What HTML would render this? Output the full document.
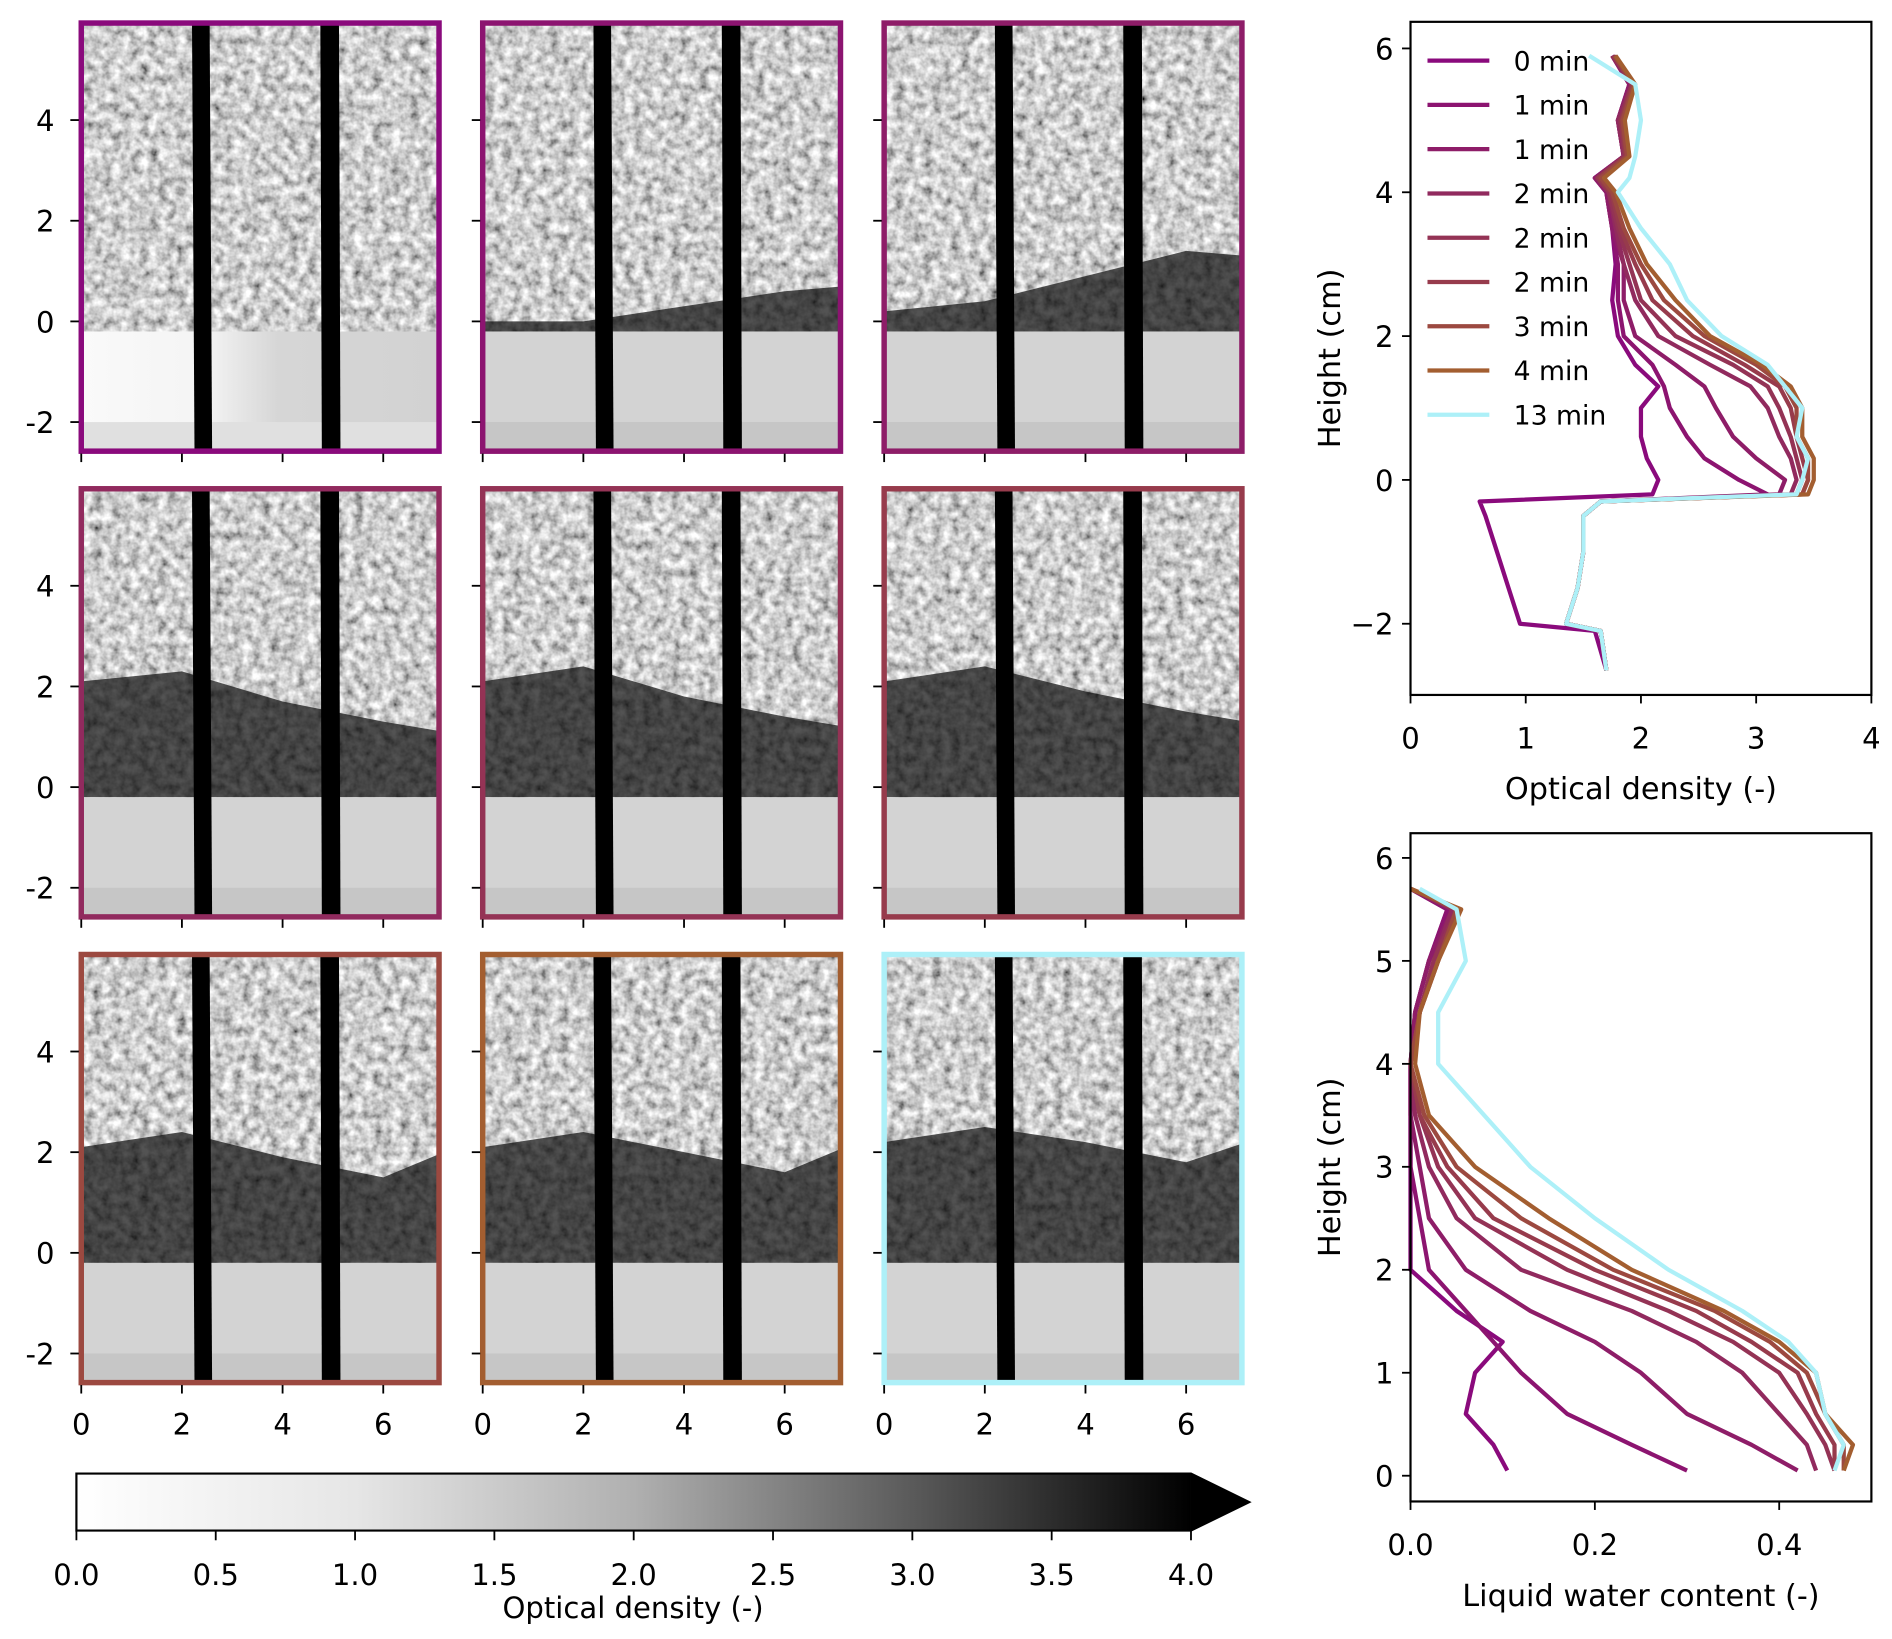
<!DOCTYPE html>
<html><head><meta charset="utf-8"><style>
html,body{margin:0;padding:0;background:#fff;overflow:hidden;width:1892px;height:1639px;}
svg{display:block;font-family:"DejaVu Sans","Liberation Sans",sans-serif;}
</style></head><body>
<svg id="fig" width="1892" height="1639" viewBox="0 0 1560 1351.4" preserveAspectRatio="none" xmlns="http://www.w3.org/2000/svg">
<defs>
<filter id="tex" x="0" y="0" width="1" height="1">
<feTurbulence type="fractalNoise" baseFrequency="0.13" numOctaves="3" seed="3"/>
<feColorMatrix type="matrix" values="1.3 0 0 0 -0.04  1.3 0 0 0 -0.04  1.3 0 0 0 -0.04  0 0 0 0 1"/>
</filter>
<linearGradient id="cbg" x1="0" x2="1" y1="0" y2="0">
<stop offset="0" stop-color="#ffffff"/><stop offset="0.25" stop-color="#e6e6e6"/><stop offset="0.5" stop-color="#b0b0b0"/><stop offset="0.75" stop-color="#5a5a5a"/><stop offset="1" stop-color="#000"/>
</linearGradient>
<linearGradient id="p1low" x1="0" x2="1" y1="0" y2="0">
<stop offset="0" stop-color="#fafafa"/><stop offset="0.35" stop-color="#f4f4f4"/><stop offset="0.55" stop-color="#d6d6d6"/><stop offset="1" stop-color="#d2d2d2"/>
</linearGradient>
</defs>
<g id="panels"></g>
<g id="cbar"></g>
<g id="odchart"></g>
<g id="lwcchart"></g>
</svg>
<script>
// ---------- data ----------
const seriesLabels = ["0 min","1 min","1 min","2 min","2 min","2 min","3 min","4 min","13 min"];
const seriesColors = ["#8a0a7c","#8c1470","#8e1d68","#912a5e","#943355","#973b4c","#9c4940","#a35e30","#adf0f8"];
const odHeights = [-2.65,-2.1,-2.0,-1.5,-1.0,-0.5,-0.3,-0.2,0,0.3,0.6,1.0,1.3,1.6,2.0,2.5,3.0,3.5,4.0,4.2,4.5,5.0,5.5,5.9];
const od0  = [1.7,1.6,0.95,0.85,0.75,0.65,0.6,2.1,2.15,2.05,2.0,2.0,2.15,1.95,1.8,1.75,1.78,1.75,1.7,1.6,1.85,1.8,1.9,1.75];
const od1a = [1.7,1.65,1.35,1.45,1.5,1.5,1.65,3.1,2.85,2.55,2.4,2.25,2.2,2.1,1.85,1.8,1.8,1.75,1.7,1.6,1.85,1.8,1.9,1.75];
const od1b = [1.7,1.65,1.35,1.45,1.5,1.5,1.65,3.2,3.25,3.0,2.8,2.65,2.55,2.3,1.95,1.85,1.85,1.75,1.7,1.6,1.85,1.8,1.9,1.75];
const od2a = [1.7,1.65,1.35,1.45,1.5,1.5,1.65,3.3,3.35,3.3,3.2,3.1,2.95,2.6,2.15,1.95,1.85,1.78,1.72,1.62,1.85,1.8,1.92,1.75];
const od2b = [1.7,1.65,1.35,1.45,1.5,1.5,1.65,3.35,3.4,3.35,3.3,3.2,3.1,2.8,2.3,2.0,1.9,1.8,1.72,1.62,1.86,1.82,1.92,1.76];
const od2c = [1.7,1.65,1.35,1.45,1.5,1.5,1.65,3.4,3.45,3.4,3.35,3.3,3.2,2.9,2.45,2.1,1.95,1.82,1.74,1.63,1.87,1.83,1.93,1.76];
const od3  = [1.7,1.65,1.35,1.45,1.5,1.5,1.65,3.4,3.45,3.45,3.35,3.35,3.25,3.0,2.55,2.2,2.0,1.85,1.75,1.65,1.88,1.84,1.94,1.77];
const od4  = [1.7,1.65,1.35,1.45,1.5,1.5,1.65,3.45,3.5,3.5,3.4,3.4,3.3,3.05,2.6,2.3,2.05,1.9,1.78,1.68,1.9,1.86,1.95,1.78];
const od13 = [1.7,1.65,1.35,1.45,1.5,1.5,1.65,3.35,3.4,3.45,3.35,3.4,3.25,3.1,2.7,2.4,2.25,2.0,1.8,1.9,1.95,2.0,1.95,1.55];
const odSeries = [od0,od1a,od1b,od2a,od2b,od2c,od3,od4,od13];
const odXTicks = [0,1,2,3,4];
const odYTicks = [-2,0,2,4,6];

const lwcHeights = [0.05,0.3,0.6,1.0,1.3,1.6,2.0,2.5,3.0,3.5,4.0,4.5,5.0,5.5,5.7];
const lwc0  = [0.105,0.09,0.06,0.07,0.1,0.05,0.0,0.0,0.0,0.0,0.0,0.005,0.02,0.04,0.0];
const lwc1a = [0.3,0.24,0.17,0.12,0.09,0.06,0.02,0.01,0.0,0.0,0.0,0.005,0.02,0.04,0.0];
const lwc1b = [0.42,0.37,0.3,0.25,0.2,0.13,0.06,0.02,0.01,0.0,0.0,0.005,0.02,0.045,0.0];
const lwc2a = [0.44,0.43,0.4,0.36,0.31,0.24,0.12,0.05,0.02,0.005,0.0,0.01,0.025,0.045,0.0];
const lwc2b = [0.46,0.45,0.43,0.4,0.35,0.28,0.17,0.07,0.03,0.01,0.0,0.01,0.025,0.05,0.0];
const lwc2c = [0.46,0.46,0.44,0.42,0.37,0.31,0.2,0.09,0.04,0.01,0.0,0.01,0.03,0.05,0.0];
const lwc3  = [0.47,0.47,0.45,0.43,0.39,0.33,0.22,0.12,0.05,0.015,0.0,0.01,0.03,0.05,0.0];
const lwc4  = [0.47,0.48,0.45,0.44,0.4,0.34,0.24,0.15,0.07,0.02,0.005,0.01,0.03,0.055,0.0];
const lwc13 = [0.46,0.47,0.45,0.44,0.41,0.36,0.28,0.2,0.13,0.08,0.03,0.03,0.06,0.05,0.01];
const lwcSeries = [lwc0,lwc1a,lwc1b,lwc2a,lwc2b,lwc2c,lwc3,lwc4,lwc13];
const lwcXTicks = [0.0,0.2,0.4];
const lwcYTicks = [0,1,2,3,4,5,6];

const cbTicks = [0.0,0.5,1.0,1.5,2.0,2.5,3.0,3.5,4.0];
const panelXTicks = [0,2,4,6];
const panelYTicks = [-2,0,2,4];
// wetting front height (cm) at x = 0,2,4,6,7.2 per panel (null = none)
const frontX = [0,2,4,6,7.2];
const fronts = [null,[0,0,0.3,0.6,0.7],[0.2,0.4,0.9,1.4,1.3],[2.1,2.3,1.7,1.3,1.1],[2.1,2.4,1.8,1.4,1.2],[2.1,2.4,1.9,1.5,1.3],[2.1,2.4,1.9,1.5,2.0],[2.1,2.4,2.0,1.6,2.1],[2.2,2.5,2.2,1.8,2.2]];

// ---------- helpers ----------
const NS="http://www.w3.org/2000/svg";
function mk(tag,attrs,parent,txt){const e=document.createElementNS(NS,tag);for(const k in attrs)e.setAttribute(k,attrs[k]);if(txt!==undefined)e.textContent=txt;parent.appendChild(e);return e;}
const FS=24;

// ---------- panels ----------
const P=document.getElementById('panels');
const colX=[65,396,727], rowY=[17,401,785];
const PW=299, PH=357;
for(let i=0;i<9;i++){
  const c=i%3,r=Math.floor(i/3);
  const x0=colX[c], y0=rowY[r];
  const sx=v=>x0+2+v*41.5, sy=h=>y0+248-h*41.5;
  const g=mk('g',{},P);
  
  
  const cid='clip'+i;
  const cp=mk('clipPath',{id:cid},g); mk('rect',{x:x0,y:y0,width:PW,height:PH},cp);
  const inner=mk('g',{'clip-path':'url(#'+cid+')'},g);
  mk('rect',{x:x0,y:y0,width:PW,height:PH,fill:'#999'},inner);
  mk('rect',{x:x0,y:y0,width:PW,height:PH,filter:'url(#tex)'},inner);
  const f=fronts[i];
  if(f){
    let d='M'+sx(-0.1)+','+sy(-0.2);
    for(let k=0;k<frontX.length;k++) d+=' L'+sx(frontX[k])+','+sy(f[k]);
    d+=' L'+sx(7.3)+','+sy(-0.2)+' Z';
    const w=mk('path',{d:d,fill:'#0a0a0a','fill-opacity':0.7},inner);
    
    
  }
  mk('rect',{x:x0,y:sy(-0.2),width:PW,height:PH,fill:i===0?'url(#p1low)':'#d3d3d3'},inner);
  mk('rect',{x:x0,y:sy(-2.0),width:PW,height:PH,fill:i===0?'#e0e0e0':'#c6c6c6'},inner);
  mk('polygon',{points:`${sx(2.2)},${y0} ${sx(2.55)},${y0} ${sx(2.6)},${y0+PH} ${sx(2.25)},${y0+PH}`,fill:'#000'},inner);
  mk('polygon',{points:`${sx(4.75)},${y0} ${sx(5.12)},${y0} ${sx(5.15)},${y0+PH} ${sx(4.78)},${y0+PH}`,fill:'#000'},inner);
  const b=mk('rect',{x:x0+2,y:y0+2,width:PW-4,height:PH-4,fill:'none',stroke:seriesColors[i],'stroke-width':4.5},g);
  
  
  for(const t of panelYTicks){
    const y=sy(t);
    mk('line',{x1:x0-7,x2:x0,y1:y,y2:y,stroke:'#000','stroke-width':1.5},g);
    if(c===0){const tl=mk('text',{x:x0-20,y:y+9,'text-anchor':'end','font-size':FS},g,t===-2?'-2':String(t));
      }
  }
  for(const t of panelXTicks){
    const x=sx(t);
    mk('line',{x1:x,x2:x,y1:y0+PH,y2:y0+PH+7,stroke:'#000','stroke-width':1.5},g);
    if(r===2){const tl=mk('text',{x:x,y:1183,'text-anchor':'middle','font-size':FS},g,String(t));
      }
  }
}

// ---------- colorbar ----------
const CB=document.getElementById('cbar');
const cbx0=63,cbx1=982,cby0=1215,cby1=1262;
const cbs=v=>cbx0+(v/4)*(cbx1-cbx0);
mk('rect',{x:cbx0,y:cby0,width:cbx1-cbx0,height:cby1-cby0,fill:'url(#cbg)'},CB);
mk('polygon',{points:`${cbx1},${cby0} ${1030},${(cby0+cby1)/2} ${cbx1},${cby1}`,fill:'#000'},CB);
mk('path',{d:`M${cbx0},${cby0} L${cbx1},${cby0} L1030,${(cby0+cby1)/2} L${cbx1},${cby1} L${cbx0},${cby1} Z`,fill:'none',stroke:'#000','stroke-width':1.8},CB);
for(const t of cbTicks){
  const x=cbs(t);
  mk('line',{x1:x,x2:x,y1:cby1,y2:cby1+8,stroke:'#000','stroke-width':1.5},CB);
  const tl=mk('text',{x:x,y:1307,'text-anchor':'middle','font-size':FS},CB,t.toFixed(1));
  
}
const cbt=mk('text',{x:522,y:1334,'text-anchor':'middle','font-size':FS},CB,'Optical density (-)');


// ---------- line chart ----------
function chart(G,box,xlim,ylim,xt,yt,xfmt,heights,series,xlabel,legend){
  const sx=v=>box.x0+(v-xlim[0])/(xlim[1]-xlim[0])*(box.x1-box.x0);
  const sy=v=>box.y1-(v-ylim[0])/(ylim[1]-ylim[0])*(box.y1-box.y0);
  for(let s=0;s<series.length;s++){
    const pts=heights.map((h,k)=>sx(series[s][k]).toFixed(1)+','+sy(h).toFixed(1)).join(' ');
    const pl=mk('polyline',{points:pts,fill:'none',stroke:seriesColors[s],'stroke-width':3.5,'stroke-linejoin':'round'},G);
    
    
  }
  mk('rect',{x:box.x0,y:box.y0,width:box.x1-box.x0,height:box.y1-box.y0,fill:'none',stroke:'#000','stroke-width':1.8},G);
  for(const t of xt){const x=sx(t);
    mk('line',{x1:x,x2:x,y1:box.y1,y2:box.y1+7,stroke:'#000','stroke-width':1.5},G);
    const tl=mk('text',{x:x,y:box.y1+44,'text-anchor':'middle','font-size':FS},G,xfmt(t));
    }
  for(const t of yt){const y=sy(t);
    mk('line',{x1:box.x0-7,x2:box.x0,y1:y,y2:y,stroke:'#000','stroke-width':1.5},G);
    const tl=mk('text',{x:box.x0-14,y:y+9,'text-anchor':'end','font-size':FS},G,t<0?'\u2212'+(-t):String(t));
    }
  const xl=mk('text',{x:(box.x0+box.x1)/2,y:box.y1+86,'text-anchor':'middle','font-size':FS+1},G,xlabel);
  
  const cy=(box.y0+box.y1)/2;
  const yl=mk('text',{x:1105,y:cy,'text-anchor':'middle','font-size':FS+1,transform:`rotate(-90 1105 ${cy})`},G,'Height (cm)');
  
  if(legend){
    for(let s=0;s<seriesLabels.length;s++){
      const y=50+s*36.5;
      const le=mk('g',{},G);
      
      
      mk('line',{x1:1177,x2:1228,y1:y,y2:y,stroke:seriesColors[s],'stroke-width':3.5},le);
      mk('text',{x:1248,y:y+8,'font-size':22},le,seriesLabels[s]);
    }
  }
}
chart(document.getElementById('odchart'),{x0:1163,x1:1543,y0:18,y1:573},[0,4],[-2.99,6.37],odXTicks,odYTicks,t=>String(t),odHeights,odSeries,'Optical density (-)',true);
chart(document.getElementById('lwcchart'),{x0:1163,x1:1543,y0:687,y1:1238},[0,0.5],[-0.25,6.24],lwcXTicks,lwcYTicks,t=>t.toFixed(1),lwcHeights,lwcSeries,'Liquid water content (-)',false);
</script>
</body></html>
